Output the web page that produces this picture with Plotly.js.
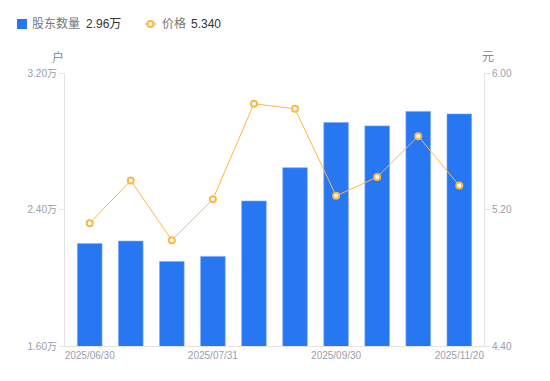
<!DOCTYPE html>
<html>
<head>
<meta charset="utf-8">
<script src="https://cdn.plot.ly/plotly-3.0.1.min.js"></script>
<style>html,body{margin:0;padding:0;background:#fff;}#chart{width:550px;height:381px;}</style>
</head>
<body>
<div id="chart"></div>
<script>
const dates = ["2025/06/30","2025/07/10","2025/07/20","2025/07/31","2025/08/20","2025/08/31","2025/09/30","2025/10/20","2025/10/31","2025/11/20"];
const holders = [2.20, 2.215, 2.095, 2.125, 2.45, 2.645, 2.91, 2.89, 2.975, 2.96]; // 万户
const prices = [5.12, 5.37, 5.02, 5.26, 5.82, 5.79, 5.28, 5.39, 5.63, 5.34];
const shownTicks = ["2025/06/30","2025/07/31","2025/09/30","2025/11/20"];
const leftTicks = [1.6, 2.4, 3.2];
const rightTicks = [4.4, 5.2, 6.0];

const font = "'Liberation Sans', Arial, 'Noto Sans CJK SC', sans-serif";
const tickColor = "#9d9dab";
const axisColor = "#e3e3e3";
const barColor = "#2777f2";
const lineColor = "#fbb843";

const lastH = holders[holders.length-1];
const lastP = prices[prices.length-1];

// pixel -> paper helpers (plot area: x 65..484, y 73..346)
const L = 65, R = 484, T = 73, B = 346;
const px = x => (x - L) / (R - L);
const py = y => (B - y) / (B - T);

const traces = [
  {
    type: "bar", x: dates, y: holders, yaxis: "y", name: "股东数量",
    marker: {color: barColor, line: {color: "#7aaaf6", width: 0.6}},
    width: 0.6, hoverinfo: "skip"
  },
  {
    type: "scatter", mode: "lines+markers", x: dates, y: prices, yaxis: "y2", name: "价格",
    line: {color: lineColor, width: 1},
    marker: {symbol: "circle", size: 6, color: "#ffffff", line: {color: lineColor, width: 2}},
    hoverinfo: "skip"
  }
];

const ann = (text, x, y, color, anchor) => ({
  text, xref: "paper", yref: "paper", x: px(x), y: py(y), xanchor: anchor || "left", yanchor: "middle",
  showarrow: false, font: {size: 12, color, family: font}
});

const layout = {
  width: 550, height: 381,
  margin: {l: L, r: 550 - R, t: T, b: 381 - B, autoexpand: false},
  paper_bgcolor: "#fff", plot_bgcolor: "#fff",
  font: {family: font, size: 10, color: tickColor},
  showlegend: false,
  bargap: 0.4,
  xaxis: {
    type: "category", tickmode: "array", tickvals: shownTicks, ticktext: shownTicks,
    showline: true, linecolor: axisColor, linewidth: 1, ticks: "", showgrid: false,
    tickfont: {size: 10, color: tickColor}, zeroline: false
  },
  yaxis: {
    range: [1.6, 3.2], tickmode: "array", tickvals: leftTicks,
    ticktext: leftTicks.map(v => v.toFixed(2) + "万"),
    showline: true, linecolor: axisColor, linewidth: 1, ticks: "outside", ticklen: 5, tickcolor: axisColor,
    showgrid: false, zeroline: false, tickfont: {size: 10, color: tickColor}
  },
  yaxis2: {
    range: [4.4, 6.0], overlaying: "y", side: "right", tickmode: "array", tickvals: rightTicks,
    ticktext: rightTicks.map(v => v.toFixed(2)),
    showline: true, linecolor: axisColor, linewidth: 1, ticks: "outside", ticklen: 5, tickcolor: axisColor,
    showgrid: false, zeroline: false, tickfont: {size: 10, color: tickColor}
  },
  shapes: [
    {type: "rect", xref: "paper", yref: "paper", x0: px(17), x1: px(27), y0: py(29), y1: py(19),
     fillcolor: barColor, line: {width: 0}},
    {type: "line", xref: "paper", yref: "paper", x0: px(145), x1: px(156), y0: py(24), y1: py(24),
     line: {color: lineColor, width: 1.5}},
    {type: "circle", xref: "paper", yref: "paper", x0: px(147.5), x1: px(153.5), y0: py(27), y1: py(21),
     fillcolor: "#fff", line: {color: lineColor, width: 2}}
  ],
  annotations: [
    ann("股东数量", 30, 24, "#777"),
    ann(lastH.toFixed(2) + "万", 84, 24, "#333"),
    ann("价格", 160, 24, "#777"),
    ann(lastP.toFixed(3), 189, 24, "#333"),
    ann("户", 57.5, 57, "#888", "center"),
    ann("元", 488, 57, "#888", "center")
  ]
};

Plotly.newPlot("chart", traces, layout, {displayModeBar: false, staticPlot: true});
</script>
</body>
</html>
